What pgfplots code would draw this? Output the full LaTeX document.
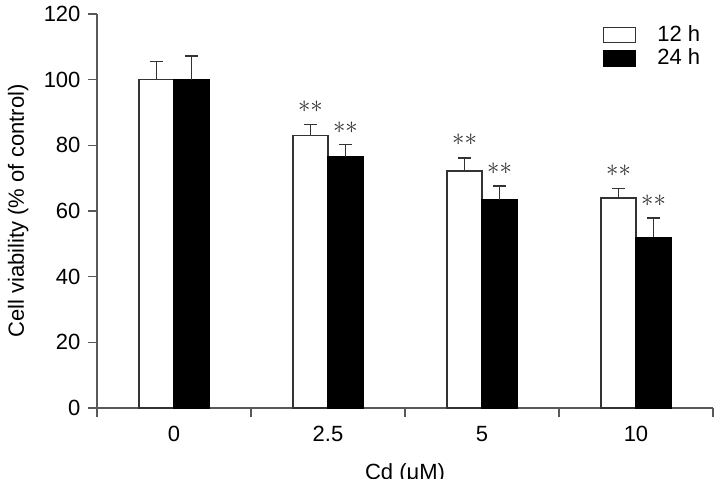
\documentclass[border=0pt]{standalone}
\usepackage{pgfplots}
\pgfplotsset{compat=1.18}
\usepackage{fontspec}
\setmainfont{Liberation Sans}
\definecolor{axgray}{gray}{0.35}
\definecolor{bargray}{gray}{0.2}
\definecolor{stargray}{gray}{0.2}
\newcommand{\stars}{\fontsize{25bp}{30bp}\selectfont$\ast\ast$}
\begin{document}
\fontsize{22bp}{26bp}\selectfont
\begin{tikzpicture}
\useasboundingbox (-97bp,-71bp) rectangle (620bp,408bp);
\begin{axis}[
  at={(0,0)}, anchor=south west,
  scale only axis, width=616bp, height=394bp,
  xmin=-0.5, xmax=3.5, ymin=0, ymax=120,
  axis lines=left,
  axis line style={-, draw=axgray, line width=1.3bp},
  every tick/.style={draw=axgray, line width=1.3bp},
  tick align=outside, major tick length=9bp,
  ytick={0,20,...,120},
  xtick={-0.5,0.5,1.5,2.5,3.5}, xticklabels={},
  extra x ticks={0,1,2,3},
  extra x tick labels={0,2.5,5,10},
  extra x tick style={major tick length=0pt, tick label style={yshift=-11bp}},
  /pgf/number format/assume math mode=true,
  tick label style={font=\fontsize{22bp}{26bp}\selectfont},
  label style={font=\fontsize{22bp}{26bp}\selectfont},
  ylabel={Cell viability (\% of control)},
  xlabel={Cd (μM)},
  ylabel style={at={(axis description cs:-0.128,0.5)}, anchor=center},
  xlabel style={at={(axis description cs:0.5,-0.167)}, anchor=center},
  ybar=0pt, bar width=35bp,
  area legend,
  legend image code/.code={\draw[#1] (0bp,-7.5bp) rectangle (32bp,7.5bp);},
  legend style={draw=none, fill=none, at={(0.821,0.976)}, anchor=north west,
    inner sep=0pt, row sep=0bp, font=\fontsize{22bp}{26bp}\selectfont,
    /tikz/every odd column/.append style={column sep=19bp}},
  legend cell align=left,
]
\addplot[fill=white, draw=bargray, line width=1.4bp,
  error bars/.cd, y dir=plus, y explicit,
  error bar style={line width=1.6bp, draw=bargray},
  error mark options={rotate=90, line width=1.6bp, mark size=6.5bp, draw=bargray}]
  coordinates {(0,100) +- (0,5.5) (1,83) +- (0,3.3) (2,72.2) +- (0,4) (3,63.9) +- (0,3)};
\addlegendentry{12 h}
\addplot[fill=black, draw=black, line width=1.4bp,
  error bars/.cd, y dir=plus, y explicit,
  error bar style={line width=1.6bp, draw=bargray},
  error mark options={rotate=90, line width=1.6bp, mark size=6.5bp, draw=bargray}]
  coordinates {(0,100) +- (0,7.2) (1,76.4) +- (0,3.9) (2,63.4) +- (0,4.2) (3,52) +- (0,5.8)};
\addlegendentry{24 h}
\node[text=stargray, xshift=-17.5bp] at (axis cs:1,91.8) {\stars};
\node[text=stargray, xshift=17.5bp] at (axis cs:1,85.4) {\stars};
\node[text=stargray, xshift=-17.5bp] at (axis cs:2,81.6) {\stars};
\node[text=stargray, xshift=17.5bp] at (axis cs:2,73.0) {\stars};
\node[text=stargray, xshift=-17.5bp] at (axis cs:3,72.2) {\stars};
\node[text=stargray, xshift=17.5bp] at (axis cs:3,63.1) {\stars};
\end{axis}
\end{tikzpicture}
\end{document}
